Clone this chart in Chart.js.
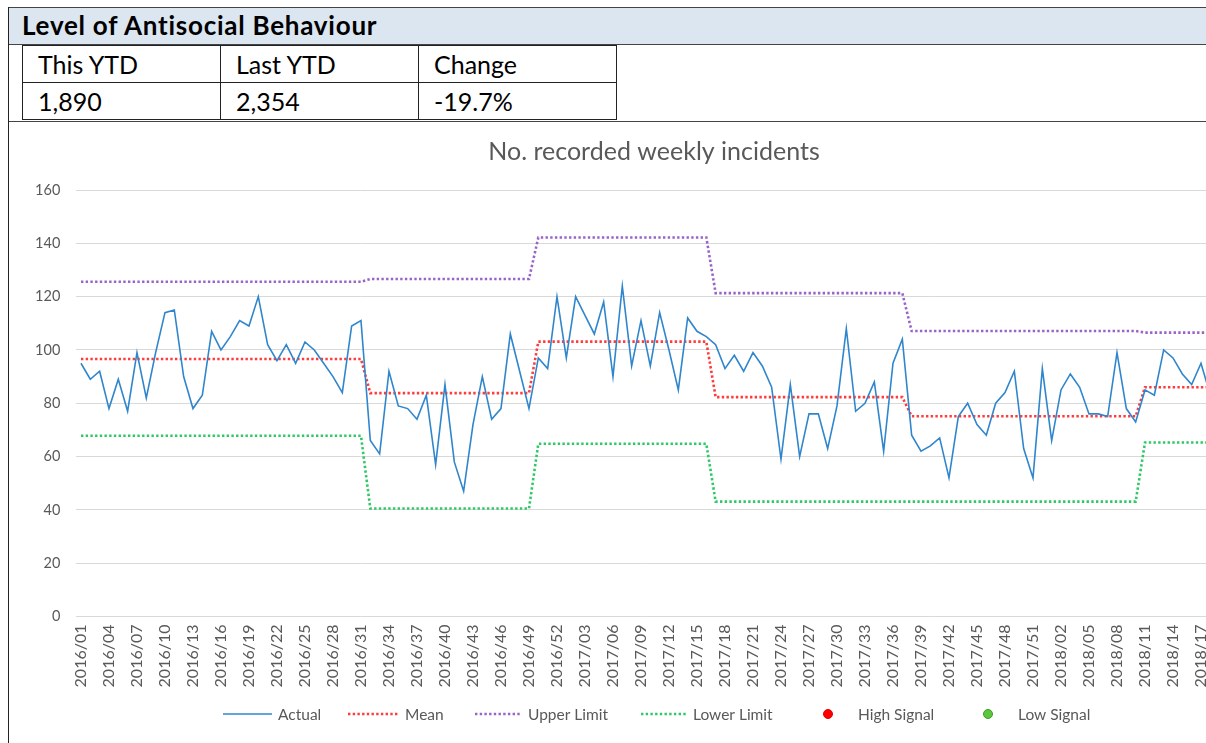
<!DOCTYPE html>
<html>
<head>
<meta charset="utf-8">
<script src="https://cdn.jsdelivr.net/npm/chart.js@4.4.1/dist/chart.umd.min.js"></script>
<style>
  body { margin: 0; width: 1206px; height: 743px; overflow: hidden; background: #fff; position: relative; font-family: Lato, "Open Sans", sans-serif; }
  .topline { position: absolute; left: 8px; top: 7px; width: 1300px; height: 1px; background: #444; }
  .leftline { position: absolute; left: 8px; top: 7px; width: 1px; height: 800px; background: #222; }
  .band { position: absolute; left: 9px; top: 8px; width: 1300px; height: 36px; background: #dce6f1; border-bottom: 1px solid #444; }
  .band span { position: absolute; left: 13px; top: 1px; font-weight: bold; font-size: 26px; color: #000; letter-spacing: 0.75px; }
  table.ytd { position: absolute; left: 22px; top: 45px; border-collapse: collapse; }
  table.ytd td { border: 1px solid #222; width: 182px; height: 36px; padding: 0 0 0 15px; font-size: 25px; color: #000; line-height: 36px; }
  .sepline { position: absolute; left: 8px; top: 121px; width: 1300px; height: 1px; background: #444; }
  #wrap { position: absolute; left: 9px; top: 123px; }
</style>
</head>
<body>
<div class="topline"></div>
<div class="band"><span>Level of Antisocial Behaviour</span></div>
<table class="ytd">
  <tr><td>This YTD</td><td>Last YTD</td><td>Change</td></tr>
  <tr><td>1,890</td><td>2,354</td><td>-19.7%</td></tr>
</table>
<div class="sepline"></div>
<div class="leftline"></div>
<div id="wrap"><canvas id="spc" width="1290" height="620"></canvas></div>
<script>
// weeks (categories)
const weeks = [
  '2016/01','2016/02','2016/03','2016/04','2016/05','2016/06','2016/07','2016/08','2016/09','2016/10','2016/11','2016/12','2016/13',
  '2016/14','2016/15','2016/16','2016/17','2016/18','2016/19','2016/20','2016/21','2016/22','2016/23','2016/24','2016/25','2016/26',
  '2016/27','2016/28','2016/29','2016/30','2016/31','2016/32','2016/33','2016/34','2016/35','2016/36','2016/37','2016/38','2016/39',
  '2016/40','2016/41','2016/42','2016/43','2016/44','2016/45','2016/46','2016/47','2016/48','2016/49','2016/50','2016/51','2016/52',
  '2017/01','2017/02','2017/03','2017/04','2017/05','2017/06','2017/07','2017/08','2017/09','2017/10','2017/11','2017/12','2017/13',
  '2017/14','2017/15','2017/16','2017/17','2017/18','2017/19','2017/20','2017/21','2017/22','2017/23','2017/24','2017/25','2017/26',
  '2017/27','2017/28','2017/29','2017/30','2017/31','2017/32','2017/33','2017/34','2017/35','2017/36','2017/37','2017/38','2017/39',
  '2017/40','2017/41','2017/42','2017/43','2017/44','2017/45','2017/46','2017/47','2017/48','2017/49','2017/50','2017/51','2017/52',
  '2018/01','2018/02','2018/03','2018/04','2018/05','2018/06','2018/07','2018/08','2018/09','2018/10','2018/11','2018/12','2018/13',
  '2018/14','2018/15','2018/16','2018/17','2018/18'
];

// weekly incidents
const actual = [
  95, 89, 92, 78, 89, 77, 99, 82, 99, 114, 115, 90, 78, 83, 107, 100, 105, 111, 109, 120,
  102, 96, 102, 95, 103, 100, 95, 90, 84, 109, 111, 66, 61, 92, 79, 78, 74, 83, 57, 87,
  58, 47, 72, 90, 74, 78, 106, 92, 78, 97, 93, 120, 97, 120, 113, 106, 118, 90, 124, 94,
  111, 94, 114, 100, 85, 112, 107, 105, 102, 93, 98, 92, 99, 94, 86, 59, 87, 60, 76, 76,
  63, 79, 108, 77, 80, 88, 62, 95, 104, 68, 62, 64, 67, 52, 75, 80, 72, 68, 80, 84,
  92, 63, 52, 93, 66, 85, 91, 86, 76, 76, 75, 99, 78, 73, 85, 83, 100, 97, 91, 87,
  95, 83
];

const mean = [
  96.6, 96.6, 96.6, 96.6, 96.6, 96.6, 96.6, 96.6, 96.6, 96.6, 96.6, 96.6, 96.6, 96.6, 96.6, 96.6,
  96.6, 96.6, 96.6, 96.6, 96.6, 96.6, 96.6, 96.6, 96.6, 96.6, 96.6, 96.6, 96.6, 96.6, 96.6,
  83.8, 83.8, 83.8, 83.8, 83.8, 83.8, 83.8, 83.8, 83.8, 83.8, 83.8, 83.8, 83.8, 83.8, 83.8, 83.8, 83.8, 83.8,
  103.1, 103.1, 103.1, 103.1, 103.1, 103.1, 103.1, 103.1, 103.1, 103.1, 103.1, 103.1, 103.1, 103.1, 103.1, 103.1, 103.1, 103.1, 103.1,
  82.3, 82.3, 82.3, 82.3, 82.3, 82.3, 82.3, 82.3, 82.3, 82.3, 82.3, 82.3, 82.3, 82.3, 82.3, 82.3, 82.3, 82.3, 82.3, 82.3, 82.3,
  75.1, 75.1, 75.1, 75.1, 75.1, 75.1, 75.1, 75.1, 75.1, 75.1, 75.1, 75.1, 75.1, 75.1, 75.1, 75.1, 75.1, 75.1, 75.1, 75.1, 75.1, 75.1, 75.1, 75.1, 75.1,
  86.0, 86.0, 86.0, 86.0, 86.0, 86.0, 86.0, 86.0
];

const upperLimit = [
  125.6, 125.6, 125.6, 125.6, 125.6, 125.6, 125.6, 125.6, 125.6, 125.6, 125.6, 125.6, 125.6, 125.6, 125.6, 125.6,
  125.6, 125.6, 125.6, 125.6, 125.6, 125.6, 125.6, 125.6, 125.6, 125.6, 125.6, 125.6, 125.6, 125.6, 125.6,
  126.6, 126.6, 126.6, 126.6, 126.6, 126.6, 126.6, 126.6, 126.6, 126.6, 126.6, 126.6, 126.6, 126.6, 126.6, 126.6, 126.6, 126.6,
  142.2, 142.2, 142.2, 142.2, 142.2, 142.2, 142.2, 142.2, 142.2, 142.2, 142.2, 142.2, 142.2, 142.2, 142.2, 142.2, 142.2, 142.2, 142.2,
  121.3, 121.3, 121.3, 121.3, 121.3, 121.3, 121.3, 121.3, 121.3, 121.3, 121.3, 121.3, 121.3, 121.3, 121.3, 121.3, 121.3, 121.3, 121.3, 121.3, 121.3,
  107.1, 107.1, 107.1, 107.1, 107.1, 107.1, 107.1, 107.1, 107.1, 107.1, 107.1, 107.1, 107.1, 107.1, 107.1, 107.1, 107.1, 107.1, 107.1, 107.1, 107.1, 107.1, 107.1, 107.1, 107.1,
  106.5, 106.5, 106.5, 106.5, 106.5, 106.5, 106.5, 106.5
];

const lowerLimit = [
  67.8, 67.8, 67.8, 67.8, 67.8, 67.8, 67.8, 67.8, 67.8, 67.8, 67.8, 67.8, 67.8, 67.8, 67.8, 67.8,
  67.8, 67.8, 67.8, 67.8, 67.8, 67.8, 67.8, 67.8, 67.8, 67.8, 67.8, 67.8, 67.8, 67.8, 67.8,
  40.5, 40.5, 40.5, 40.5, 40.5, 40.5, 40.5, 40.5, 40.5, 40.5, 40.5, 40.5, 40.5, 40.5, 40.5, 40.5, 40.5, 40.5,
  64.8, 64.8, 64.8, 64.8, 64.8, 64.8, 64.8, 64.8, 64.8, 64.8, 64.8, 64.8, 64.8, 64.8, 64.8, 64.8, 64.8, 64.8, 64.8,
  43.1, 43.1, 43.1, 43.1, 43.1, 43.1, 43.1, 43.1, 43.1, 43.1, 43.1, 43.1, 43.1, 43.1, 43.1, 43.1, 43.1, 43.1, 43.1, 43.1, 43.1,
  43.1, 43.1, 43.1, 43.1, 43.1, 43.1, 43.1, 43.1, 43.1, 43.1, 43.1, 43.1, 43.1, 43.1, 43.1, 43.1, 43.1, 43.1, 43.1, 43.1, 43.1, 43.1, 43.1, 43.1, 43.1,
  65.3, 65.3, 65.3, 65.3, 65.3, 65.3, 65.3, 65.3
];

// no signals flagged in this period
const highSignal = [];
const lowSignal = [];

const yTicks = [0, 20, 40, 60, 80, 100, 120, 140, 160];

// legend drawn like the spreadsheet one (fixed spots under the axis)
const sheetLegend = {
  id: 'sheetLegend',
  afterLayout(chart) {
    // title centred on the whole chart object, not only the part left of the padding
    if (chart.titleBlock) chart.titleBlock.right = chart.width;
  },
  afterDraw(chart, args, opts) {
    const ctx = chart.ctx;
    const y = opts.y;
    ctx.save();
    ctx.font = opts.font;
    ctx.textBaseline = 'middle';
    chart.data.datasets.forEach((ds, i) => {
      const it = opts.items[i];
      if (ds.showLine === false) {
        ctx.setLineDash([]);
        ctx.beginPath();
        ctx.arc(it.x1, y, 4.5, 0, Math.PI * 2);
        ctx.fillStyle = ds.pointBackgroundColor;
        ctx.fill();
        ctx.lineWidth = 1;
        ctx.strokeStyle = ds.pointBorderColor;
        ctx.stroke();
      } else {
        ctx.setLineDash(ds.borderDash || []);
        ctx.lineWidth = ds.borderWidth;
        ctx.strokeStyle = ds.borderColor;
        ctx.beginPath();
        ctx.moveTo(it.x1, y);
        ctx.lineTo(it.x2, y);
        ctx.stroke();
      }
      ctx.fillStyle = opts.color;
      ctx.fillText(ds.label, it.tx, y + 1);
    });
    ctx.restore();
  }
};

const dotted = [2.4, 2.3];

new Chart(document.getElementById('spc'), {
  type: 'line',
  data: {
    labels: weeks,
    datasets: [
      { label: 'Actual', data: actual, borderColor: '#2f86cc', borderWidth: 1.6, pointRadius: 0, tension: 0 },
      { label: 'Mean', data: mean, borderColor: '#ff3b3b', borderWidth: 2.6, borderDash: dotted, pointRadius: 0 },
      { label: 'Upper Limit', data: upperLimit, borderColor: '#9a63c8', borderWidth: 2.6, borderDash: dotted, pointRadius: 0 },
      { label: 'Lower Limit', data: lowerLimit, borderColor: '#2ec866', borderWidth: 2.6, borderDash: dotted, pointRadius: 0 },
      { label: 'High Signal', data: highSignal, showLine: false, pointRadius: 5, pointBackgroundColor: '#ff0000', pointBorderColor: '#e00000' },
      { label: 'Low Signal', data: lowSignal, showLine: false, pointRadius: 5, pointBackgroundColor: '#5cc63c', pointBorderColor: '#3d9b2a' }
    ]
  },
  options: {
    responsive: false,
    animation: false,
    layout: { padding: { left: 0, right: 84, top: 0, bottom: 46.5 } },
    plugins: {
      legend: { display: false },
      tooltip: { enabled: false },
      title: {
        display: true,
        text: 'No. recorded weekly incidents',
        color: '#595959',
        font: { family: 'Lato', size: 25, weight: 'normal' },
        padding: { top: 14, bottom: 23 }
      },
      sheetLegend: {
        y: 591,
        font: '15.5px Lato',
        color: '#595959',
        items: [
          { x1: 214, x2: 263, tx: 269 },
          { x1: 339, x2: 389, tx: 396 },
          { x1: 466, x2: 512, tx: 519 },
          { x1: 632, x2: 677, tx: 684 },
          { x1: 819, tx: 849 },
          { x1: 979, tx: 1009 }
        ]
      }
    },
    scales: {
      x: {
        offset: true,
        grid: { display: false, drawTicks: false },
        border: { display: false },
        afterFit: s => { s.height = 80; },
        ticks: {
          autoSkip: false,
          minRotation: 90,
          maxRotation: 90,
          padding: 8,
          color: '#595959',
          font: { family: 'Lato', size: 16 },
          callback: function (v, i) { return i % 3 === 0 ? this.getLabelForValue(v) : ''; }
        }
      },
      y: {
        min: yTicks[0],
        max: yTicks[yTicks.length - 1],
        afterFit: s => { s.width = 67.3; },
        afterBuildTicks: s => { s.ticks = yTicks.map(v => ({ value: v })); },
        grid: { color: '#d9d9d9', lineWidth: 1, drawTicks: false },
        border: { display: false },
        ticks: { padding: 16, color: '#595959', font: { family: 'Lato', size: 14.5 } }
      }
    }
  },
  plugins: [sheetLegend]
});
</script>
</body>
</html>
